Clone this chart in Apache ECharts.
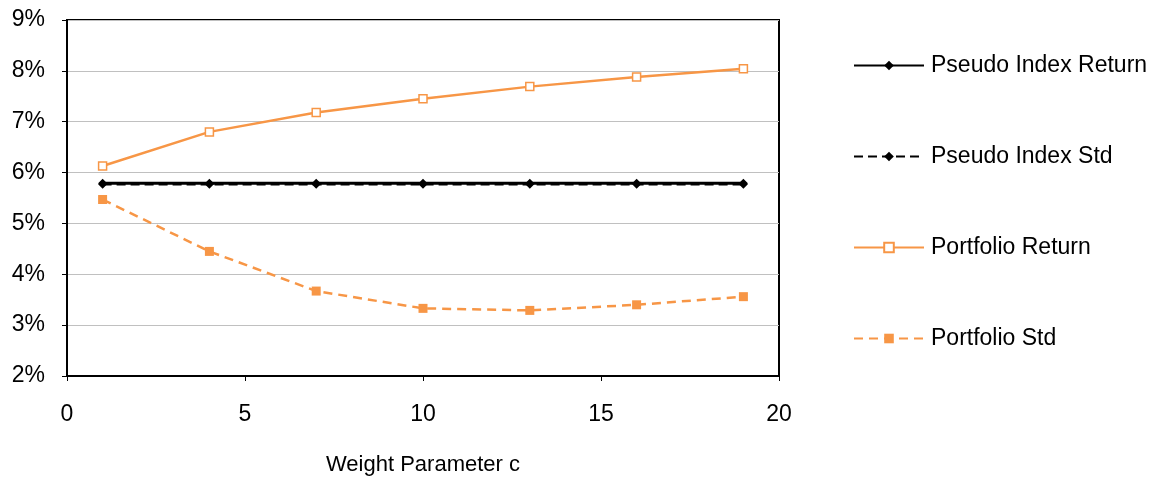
<!DOCTYPE html>
<html>
<head>
    <meta charset="utf-8">
    <title>Weight Parameter c</title>
    <script src="https://cdn.jsdelivr.net/npm/echarts@6/dist/echarts.min.js"></script>
    <style>
        html, body { margin: 0; padding: 0; background: #fff; }
        #main { width: 1159px; height: 481px; }
    </style>
</head>
<body>
<div id="main"></div>
<script type="text/javascript">
    // weight parameter c
    var cValues = [1, 4, 7, 10, 13, 16, 19];
    // values in percent
    var pseudoReturn = [5.79, 5.79, 5.79, 5.79, 5.79, 5.79, 5.79];
    var pseudoStd = [5.77, 5.77, 5.77, 5.77, 5.77, 5.77, 5.77];
    var portReturn = [6.13, 6.80, 7.18, 7.45, 7.69, 7.88, 8.04];
    var portStd = [5.47, 4.45, 3.67, 3.33, 3.29, 3.40, 3.56];

    var font = 'Arial, "Liberation Sans", sans-serif';
    var orange = '#f79646';

    function pairs(ys) {
        return cValues.map(function (c, i) { return [c, ys[i]]; });
    }

    var myChart = echarts.init(document.getElementById('main'), null, {renderer: 'canvas'});

    var option = {
        animation: false,
        grid: {
            left: 67, top: 20, right: 380, bottom: 105,
            show: true, borderColor: '#000', borderWidth: 2
        },
        legend: {
            orient: 'vertical',
            left: 848,
            top: 49,
            itemGap: 68,
            itemWidth: 70,
            itemHeight: 12,
            textStyle: {fontFamily: font, fontSize: 23, color: '#000', padding: [0, 0, 0, 2]},
            data: ['Pseudo Index Return', 'Pseudo Index Std', 'Portfolio Return', 'Portfolio Std']
        },
        xAxis: {
            type: 'value',
            min: 0, max: 20, interval: 5,
            name: 'Weight Parameter c',
            nameLocation: 'middle',
            nameGap: 78,
            nameTextStyle: {fontFamily: font, fontSize: 22, color: '#000'},
            axisLine: {lineStyle: {color: '#000', width: 2}},
            axisTick: {show: true, length: 5, lineStyle: {color: '#000'}},
            axisLabel: {fontFamily: font, fontSize: 23, color: '#000', margin: 27},
            splitLine: {show: false}
        },
        yAxis: {
            type: 'value',
            min: 2, max: 9, interval: 1,
            axisLine: {show: true, lineStyle: {color: '#000', width: 2}},
            axisTick: {show: true, length: 5, lineStyle: {color: '#000'}},
            axisLabel: {fontFamily: font, fontSize: 23, color: '#000', margin: 22, formatter: '{value}%'},
            splitLine: {show: true, lineStyle: {color: '#c0c0c0', width: 1}}
        },
        series: [
            {
                name: 'Pseudo Index Return',
                type: 'line',
                data: pairs(pseudoReturn),
                symbol: 'diamond',
                symbolSize: 9,
                itemStyle: {color: '#000'},
                lineStyle: {color: '#000', width: 3}
            },
            {
                name: 'Pseudo Index Std',
                type: 'line',
                data: pairs(pseudoStd),
                symbol: 'diamond',
                symbolSize: 9,
                itemStyle: {color: '#000'},
                lineStyle: {color: '#000', width: 2.5, type: [9, 5]}
            },
            {
                name: 'Portfolio Return',
                type: 'line',
                data: pairs(portReturn),
                symbol: 'rect',
                symbolSize: 8,
                itemStyle: {color: '#fff', borderColor: orange, borderWidth: 1.5},
                lineStyle: {color: orange, width: 2.5}
            },
            {
                name: 'Portfolio Std',
                type: 'line',
                data: pairs(portStd),
                symbol: 'rect',
                symbolSize: 9,
                itemStyle: {color: orange},
                lineStyle: {color: orange, width: 2.5, type: [9, 6]}
            }
        ]
    };

    myChart.setOption(option);
    window.addEventListener('resize', myChart.resize);
</script>
</body>
</html>
